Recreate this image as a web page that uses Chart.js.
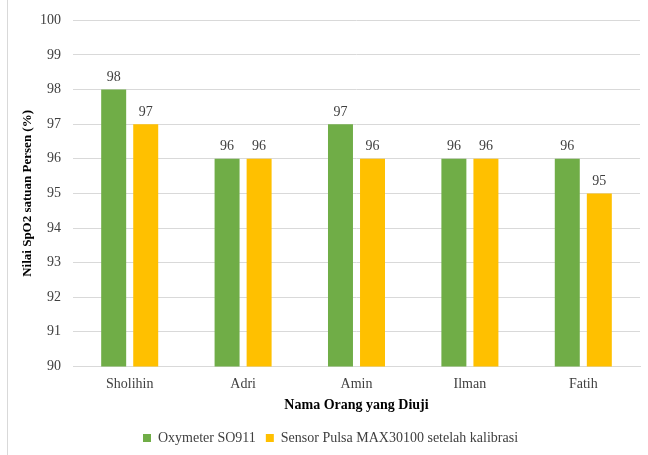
<!DOCTYPE html>
<html>
<head>
<meta charset="utf-8">
<script src="https://cdn.jsdelivr.net/npm/chart.js@4.4.1/dist/chart.umd.min.js"></script>
<style>
  html, body { margin: 0; padding: 0; background: #fff; }
  #wrap { position: absolute; left: 7px; top: 0; width: 641px; height: 455px; border-left: 1px solid #d9d9d9; }
</style>
</head>
<body>
<div id="wrap"><canvas id="spo2Chart" width="640" height="455"></canvas></div>
<script>
const names = ['Sholihin', 'Adri', 'Amin', 'Ilman', 'Fatih'];
const oxymeter = [98, 96, 97, 96, 96];
const sensorMax = [97, 96, 96, 96, 95];
const yTicks = [90, 91, 92, 93, 94, 95, 96, 97, 98, 99, 100];

const serif = '"Liberation Serif", "Times New Roman", serif';

// angka di atas setiap batang
const valueLabels = {
    id: 'valueLabels',
    afterDatasetsDraw(chart) {
        const ctx = chart.ctx;
        ctx.save();
        ctx.font = '14px ' + serif;
        ctx.fillStyle = '#404040';
        ctx.textAlign = 'center';
        ctx.textBaseline = 'bottom';
        chart.data.datasets.forEach((ds, i) => {
            chart.getDatasetMeta(i).data.forEach((bar, j) => {
                ctx.fillText(ds.data[j], bar.x, bar.y - 5);
            });
        });
        ctx.restore();
    }
};

const ctx = document.getElementById('spo2Chart').getContext('2d');
new Chart(ctx, {
    type: 'bar',
    data: {
        labels: names,
        datasets: [{
            label: 'Oxymeter SO911',
            data: oxymeter,
            backgroundColor: '#70ad47',
            categoryPercentage: 0.565,
            barPercentage: 0.78
        }, {
            label: 'Sensor Pulsa MAX30100 setelah kalibrasi',
            data: sensorMax,
            backgroundColor: '#ffc000',
            categoryPercentage: 0.565,
            barPercentage: 0.78
        }]
    },
    options: {
        responsive: false,
        animation: false,
        layout: { padding: { left: 13, right: 8, top: 14, bottom: 0 } },
        plugins: {
            legend: {
                position: 'bottom',
                labels: {
                    boxWidth: 8,
                    boxHeight: 8,
                    padding: 10,
                    color: '#404040',
                    font: { family: serif, size: 14 }
                }
            },
            tooltip: { enabled: false }
        },
        scales: {
            x: {
                grid: { display: false },
                border: { color: '#d9d9d9' },
                ticks: { color: '#404040', font: { family: serif, size: 14 }, padding: 2 },
                title: {
                    display: true,
                    text: 'Nama Orang yang Diuji',
                    color: '#000',
                    font: { family: serif, size: 14, weight: 'bold' },
                    padding: { top: 2, bottom: 7 }
                }
            },
            y: {
                min: 90,
                max: 100,
                afterBuildTicks(axis) {
                    axis.ticks = yTicks.map(v => ({ value: v }));
                },
                grid: { color: '#d9d9d9', drawTicks: false },
                border: { display: false },
                ticks: { color: '#404040', font: { family: serif, size: 14 }, padding: 12 },
                title: {
                    display: true,
                    text: 'Nilai SpO2 satuan Persen (%)',
                    color: '#000',
                    font: { family: serif, size: 13, weight: 'bold', lineHeight: 1 },
                    padding: { top: 0, bottom: -6 }
                }
            }
        }
    },
    plugins: [valueLabels]
});
</script>
</body>
</html>
